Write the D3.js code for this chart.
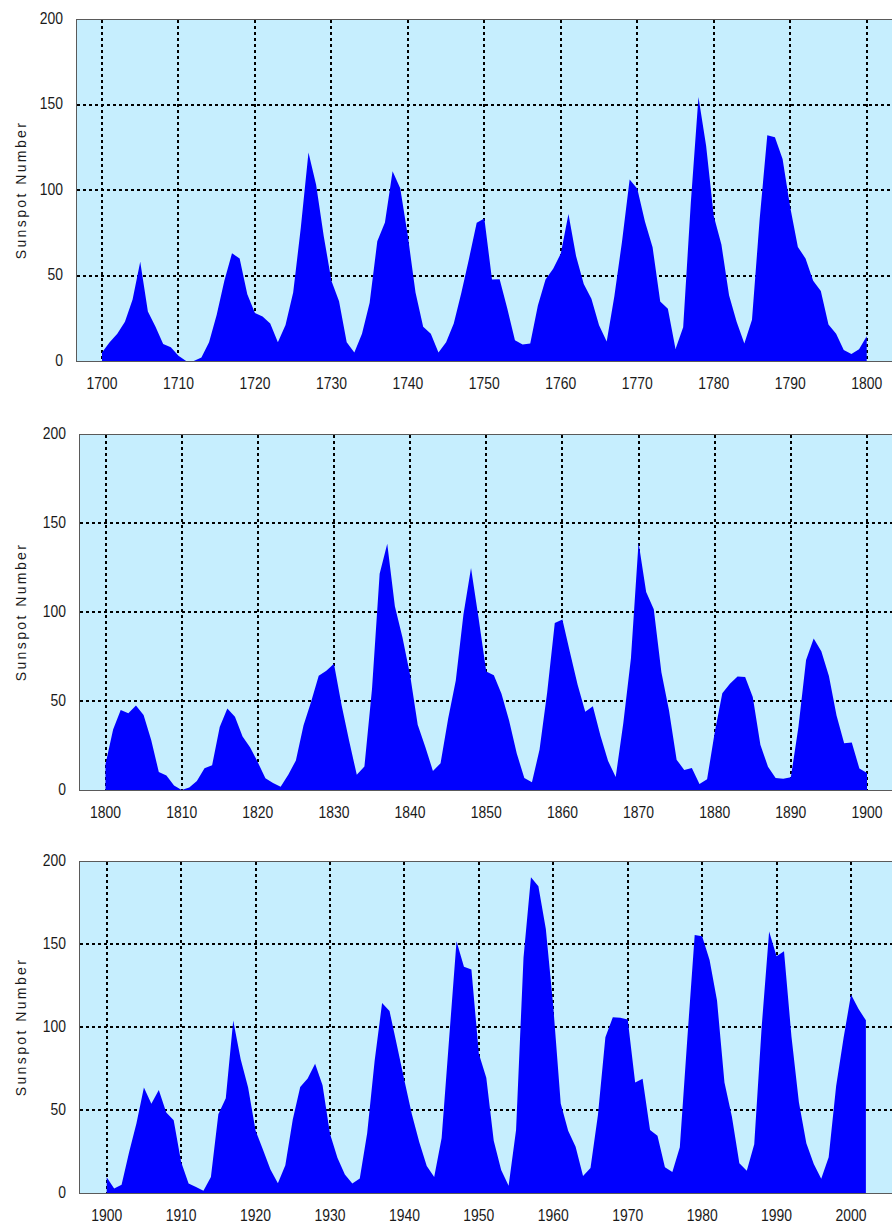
<!DOCTYPE html>
<html>
<head>
<meta charset="utf-8">
<script src="https://cdn.jsdelivr.net/npm/d3@7"></script>
<style>
  html, body { margin: 0; padding: 0; background: #fff; overflow: hidden; }
  text { font-family: "Liberation Sans", Arial, sans-serif; fill: #1a1a1a; }
</style>
</head>
<body>
<div id="chart"></div>
<script>
// yearly mean sunspot numbers, one array per century
const startYears = [1700, 1800, 1900];

const sunspots1700 = [
  5, 11, 16, 23, 36, 58, 29, 20, 10, 8,
  3, 0, 0, 2, 11, 27, 47, 63, 60, 39,
  28, 26, 22, 11, 21, 40, 78, 122, 103, 73,
  47, 35, 11, 5, 16, 34, 70, 81, 111, 101,
  73, 40, 20, 16, 5, 11, 22, 40, 60, 80.9,
  83.4, 47.7, 47.8, 30.7, 12.2, 9.6, 10.2, 32.4, 47.6, 54.0,
  62.9, 85.9, 61.2, 45.1, 36.4, 20.9, 11.4, 37.8, 69.8, 106.1,
  100.8, 81.6, 66.5, 34.8, 30.6, 7.0, 19.8, 92.5, 154.4, 125.9,
  84.8, 68.1, 38.5, 22.8, 10.2, 24.1, 82.9, 132.0, 130.9, 118.1,
  89.9, 66.6, 60.0, 46.9, 41.0, 21.3, 16.0, 6.4, 4.1, 6.8,
  14.5
];

const sunspots1800 = [
  14.5, 34.0, 45.0, 43.1, 47.5, 42.2, 28.1, 10.1, 8.1, 2.5,
  0.0, 1.4, 5.0, 12.2, 13.9, 35.4, 45.8, 41.1, 30.1, 23.9,
  15.6, 6.6, 4.0, 1.8, 8.5, 16.6, 36.3, 49.6, 64.2, 67.0,
  70.9, 47.8, 27.5, 8.5, 13.2, 56.9, 121.5, 138.3, 103.2, 85.7,
  64.6, 36.7, 24.2, 10.7, 15.0, 40.1, 61.5, 98.5, 124.7, 96.3,
  66.6, 64.5, 54.1, 39.0, 20.6, 6.7, 4.3, 22.7, 54.8, 93.8,
  95.8, 77.2, 59.1, 44.0, 47.0, 30.5, 16.3, 7.3, 37.6, 74.0,
  139.0, 111.2, 101.6, 66.2, 44.7, 17.0, 11.3, 12.4, 3.4, 6.0,
  32.3, 54.3, 59.7, 63.7, 63.5, 52.2, 25.4, 13.1, 6.8, 6.3,
  7.1, 35.6, 73.0, 85.1, 78.0, 64.0, 41.8, 26.2, 26.7, 12.1,
  9.5
];

const sunspots1900 = [
  9.5, 2.7, 5.0, 24.4, 42.0, 63.5, 53.8, 62.0, 48.5, 43.9,
  18.6, 5.7, 3.6, 1.4, 9.6, 47.4, 57.1, 103.9, 80.6, 63.6,
  37.6, 26.1, 14.2, 5.8, 16.7, 44.3, 63.9, 69.0, 77.8, 64.9,
  35.7, 21.2, 11.1, 5.7, 8.7, 36.1, 79.7, 114.4, 109.6, 88.8,
  67.8, 47.5, 30.6, 16.3, 9.6, 33.2, 92.6, 151.6, 136.3, 134.7,
  83.9, 69.4, 31.5, 13.9, 4.4, 38.0, 141.7, 190.2, 184.8, 159.0,
  112.3, 53.9, 37.5, 27.9, 10.2, 15.1, 47.0, 93.8, 105.9, 105.5,
  104.5, 66.6, 68.9, 38.0, 34.5, 15.5, 12.6, 27.5, 92.5, 155.4,
  154.6, 140.4, 115.9, 66.6, 45.9, 17.9, 13.4, 29.4, 100.2, 157.6,
  142.6, 145.7, 94.3, 54.6, 29.9, 17.5, 8.6, 21.5, 64.3, 93.3,
  119.6, 111.0, 104.0
];

const yTicks = [0, 50, 100, 150, 200];
const yGrid = [50, 100, 150];
const yLabel = "Sunspot Number";

const width = 892, height = 1227;
const svg = d3.select("#chart").append("svg").attr("width", width).attr("height", height);

// pixel frame of each panel (plot rect left, where the first / last decade sits, top, bottom)
const panels = [
  { values: sunspots1700, start: startYears[0], left: 76, x0: 102, x1: 866.7, top: 19, bottom: 361 },
  { values: sunspots1800, start: startYears[1], left: 79, x0: 105.5, x1: 867, top: 434, bottom: 790 },
  { values: sunspots1900, start: startYears[2], left: 79, x0: 106.7, x1: 851, top: 861, bottom: 1193 }
];

// narrow look of the original tick font
const squeeze = 0.82;

panels.forEach((p) => {
  const data = p.values.map((v, i) => ({ year: p.start + i, value: v }));
  const x = d3.scaleLinear().domain([p.start, p.start + 100]).range([p.x0, p.x1]);
  const y = d3.scaleLinear().domain([0, 200]).range([p.bottom, p.top]);
  const decades = d3.range(p.start, p.start + 101, 10);

  const g = svg.append("g");

  // background
  g.append("rect")
    .attr("x", p.left + 0.5)
    .attr("y", p.top + 0.5)
    .attr("width", width + 20 - p.left)
    .attr("height", p.bottom - p.top)
    .attr("fill", "#c6eefe")
    .attr("stroke", "#5a5a5a")
    .attr("stroke-width", 1);

  // dotted grid
  g.selectAll(".vgrid")
    .data(decades)
    .enter()
    .append("line")
    .attr("x1", (d) => Math.round(x(d)))
    .attr("x2", (d) => Math.round(x(d)))
    .attr("y1", p.top + 1)
    .attr("y2", p.bottom)
    .attr("stroke", "#000")
    .attr("stroke-width", 2)
    .attr("stroke-dasharray", "3,3");

  g.selectAll(".hgrid")
    .data(yGrid)
    .enter()
    .append("line")
    .attr("x1", p.left + 1)
    .attr("x2", width)
    .attr("y1", (d) => Math.round(y(d)))
    .attr("y2", (d) => Math.round(y(d)))
    .attr("stroke", "#000")
    .attr("stroke-width", 2)
    .attr("stroke-dasharray", "3,3");

  // the sunspot area
  const area = d3
    .area()
    .x((d) => x(d.year))
    .y0(y(0))
    .y1((d) => y(d.value));

  g.append("path")
    .datum(data)
    .attr("fill", "#0000ff")
    .attr("d", area);

  // y tick labels
  g.selectAll(".ylab")
    .data(yTicks)
    .enter()
    .append("text")
    .attr("transform", (d) => `translate(${p.left - 13},${y(d) - 1}) scale(${squeeze},1)`)
    .attr("dy", "0.35em")
    .attr("text-anchor", "end")
    .style("font-size", "17px")
    .text((d) => d);

  // x tick labels
  g.selectAll(".xlab")
    .data(decades)
    .enter()
    .append("text")
    .attr("transform", (d) => `translate(${x(d)},${p.bottom + 22}) scale(${squeeze},1)`)
    .attr("dy", "0.35em")
    .attr("text-anchor", "middle")
    .style("font-size", "17px")
    .text((d) => d);

  // axis title
  const cy = (p.top + p.bottom) / 2;
  g.append("text")
    .attr("transform", `translate(21,${cy}) rotate(-90)`)
    .attr("text-anchor", "middle")
    .attr("dy", "0.35em")
    .style("font-size", "14px")
    .style("letter-spacing", "2.4px")
    .text(yLabel);
});
</script>
</body>
</html>
